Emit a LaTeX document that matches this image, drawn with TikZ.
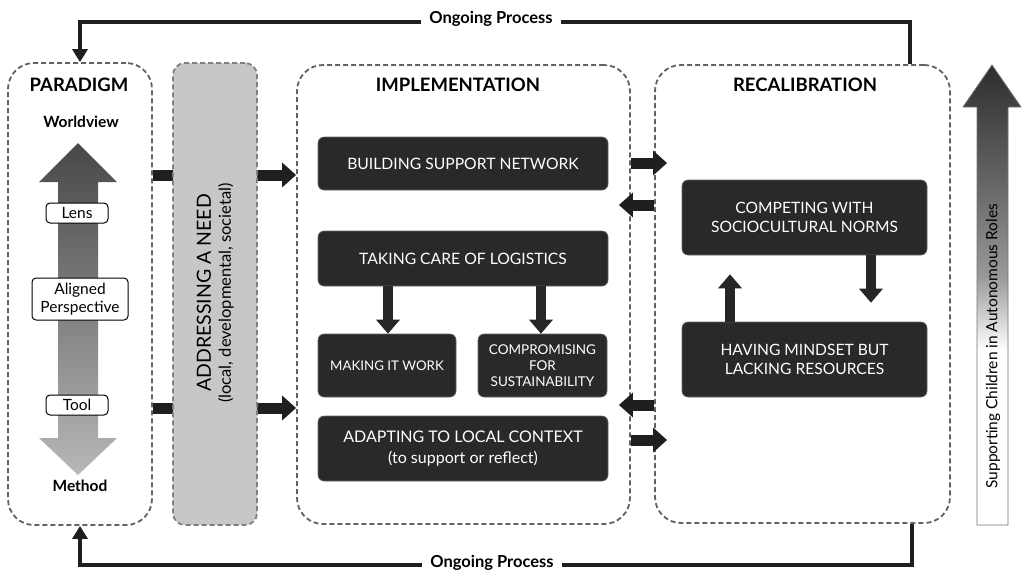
\documentclass[tikz,border=0pt]{standalone}
\usepackage{fontspec}
\setmainfont{Lato}
\usetikzlibrary{arrows.meta}

% vertical shading for the tall "supporting children" arrow: white low, dark at the tip
\pgfdeclareverticalshading{suppshade}{100bp}{color(0bp)=(white); color(44bp)=(white); color(52bp)=(black!40); color(62bp)=(black!60); color(75bp)=(black!82); color(100bp)=(black!82)}

\tikzset{
  frame/.style={draw=black!62, dash pattern=on 5pt off 3pt, line width=1.8pt, rounded corners=26pt},
  needbox/.style={draw=black!50, fill=black!22, dash pattern=on 5pt off 3pt, line width=1.8pt, rounded corners=12pt},
  darkbox/.style={fill=black!84, draw=black!60, line width=0.6pt, rounded corners=6pt, text=white,
                  align=center, font=\fontsize{15.7}{19}\selectfont, inner sep=0pt},
  tagbox/.style={fill=white, draw=black, line width=1pt, rounded corners=4pt, align=center,
                 font=\fontsize{15.5}{18}\selectfont, inner sep=0pt},
  heading/.style={font=\bfseries\fontsize{18.5}{22}\selectfont},
  sublabel/.style={font=\bfseries\fontsize{15.5}{18}\selectfont},
  block/.style={draw=black!88, line width=11pt, -{Triangle[width=24pt,length=14pt]}},
  smallblock/.style={draw=black!85, line width=10pt, -{Triangle[width=23pt,length=14pt]}},
  loop/.style={draw=black!88, line width=4pt, -{Triangle[width=15pt,length=13pt]}},
  looplabel/.style={fill=white, inner xsep=8pt, font=\bfseries\fontsize{16.5}{19}\selectfont},
}

\begin{document}
\begin{tikzpicture}[x=1pt,y=-1pt]
\useasboundingbox[fill=white] (0,0) rectangle (1022,574);

% ---- main stages -------------------------------------------------------
\node[frame, minimum width=144pt, minimum height=462pt] (paradigm) at (80,294) {};
\node[frame, minimum width=333pt, minimum height=459pt] (impl) at (463.5,294.5) {};
\node[frame, minimum width=295pt, minimum height=458pt] (recal) at (802.5,294) {};

% thick arrows from paradigm into implementation (pass behind the need box)
\coordinate (r1) at (0,175);
\coordinate (r2) at (0,408);
\draw[block] (paradigm.east |- r1) -- (impl.west |- r1);
\draw[block] (paradigm.east |- r2) -- (impl.west |- r2);

\node[needbox, minimum width=84pt, minimum height=462pt] (need) at (215,294) {};
\node[rotate=90, font=\fontsize{19.5}{22}\selectfont] (needtitle) at (204,293) {ADDRESSING A NEED};
\node[rotate=90, font=\fontsize{16.5}{19}\selectfont] (needsub) at (226,293) {(local, developmental, societal)};

% ---- paradigm column ---------------------------------------------------
\node[heading] (ptitle) at (79,85) {PARADIGM};
\node[sublabel] (worldview) at (81,122) {Worldview};
\node[sublabel] (method) at (80,486) {Method};
\shade[top color=black!72, bottom color=black!28]
  (78,143) -- (117,182) -- (98,182) -- (98,438) -- (117,438) -- (78,475)
  -- (39,438) -- (58,438) -- (58,182) -- (39,182) -- cycle;
\node[tagbox, minimum width=62pt, minimum height=20pt] (lens) at (77,213) {Lens};
\node[tagbox, minimum width=96pt, minimum height=42pt] (aligned) at (80,299) {Aligned\\Perspective};
\node[tagbox, minimum width=62pt, minimum height=20pt] (tool) at (77,405) {Tool};

% ---- implementation ----------------------------------------------------
\node[heading] (ititle) at (458,85) {IMPLEMENTATION};
\node[darkbox, minimum width=290pt, minimum height=53pt] (bsn) at (463,163.5) {BUILDING SUPPORT NETWORK};
\node[darkbox, minimum width=290pt, minimum height=55pt] (tcl) at (463,258.5) {TAKING CARE OF LOGISTICS};
\node[darkbox, minimum width=138pt, minimum height=63pt, font=\fontsize{13.3}{16}\selectfont] (miw) at (387,365.5) {MAKING IT WORK};
\node[darkbox, minimum width=129pt, minimum height=63pt, font=\fontsize{13.5}{16}\selectfont] (cfs) at (542.5,365.5) {COMPROMISING\\FOR\\SUSTAINABILITY};
\node[darkbox, minimum width=290pt, minimum height=65pt, font=\fontsize{16}{20.5}\selectfont] (alc) at (463,448.5) {ADAPTING TO LOCAL CONTEXT\\{\fontsize{16}{19}\selectfont (to support or reflect)}};

\coordinate (c1) at (388,0);
\coordinate (c2) at (541,0);
\draw[smallblock] (tcl.south -| c1) -- (miw.north -| c1);
\draw[smallblock] (tcl.south -| c2) -- (cfs.north -| c2);

% ---- recalibration -----------------------------------------------------
\node[heading] (rtitle) at (805,85) {RECALIBRATION};
\node[darkbox, minimum width=245pt, minimum height=75pt, font=\fontsize{15.6}{19.5}\selectfont] (csn) at (804.5,217.5) {COMPETING WITH\\SOCIOCULTURAL NORMS};
\node[darkbox, minimum width=245pt, minimum height=75pt, font=\fontsize{15.6}{19.5}\selectfont] (hmb) at (804.5,359.5) {HAVING MINDSET BUT\\LACKING RESOURCES};

\coordinate (d1) at (871,0);
\coordinate (d2) at (730,0);
\draw[smallblock, shorten >=19pt] (csn.south -| d1) -- (hmb.north -| d1);
\draw[smallblock, shorten >=19pt] (hmb.north -| d2) -- (csn.south -| d2);

% exchanges between implementation and recalibration
\coordinate (e1) at (0,163);
\coordinate (e2) at (0,205);
\coordinate (e3) at (0,405);
\coordinate (e4) at (0,440);
\draw[block, shorten >=-13pt] (impl.east |- e1) -- (recal.west |- e1);
\draw[block, shorten >=-12pt] (recal.west |- e2) -- (impl.east |- e2);
\draw[block, shorten >=-12pt] (recal.west |- e3) -- (impl.east |- e3);
\draw[block, shorten >=-13pt] (impl.east |- e4) -- (recal.west |- e4);

% ---- ongoing process loops ---------------------------------------------
\coordinate (tr) at (910,22);
\coordinate (tl) at (80,22);
\coordinate (br) at (912,565);
\coordinate (bl) at (80,565);
\draw[loop] (recal.north -| tr) -- (tr) -- (tl) -- (paradigm.north -| tl);
\draw[loop] (recal.south -| br) -- (br) -- (bl) -- (paradigm.south -| bl);
\node[looplabel] (toplabel) at (491,19) {Ongoing Process};
\node[looplabel] (botlabel) at (492,563) {Ongoing Process};

% ---- supporting children arrow -----------------------------------------
\shade[shading=suppshade, draw=black!55, line width=0.8pt]
  (992,65) -- (1021,107) -- (1008,107) -- (1008,525) -- (977,525) -- (977,107) -- (963,107) -- cycle;
\node[rotate=90, font=\fontsize{15.5}{18}\selectfont, anchor=west] (support) at (993,492) {Supporting Children in Autonomous Roles};

\end{tikzpicture}
\end{document}
